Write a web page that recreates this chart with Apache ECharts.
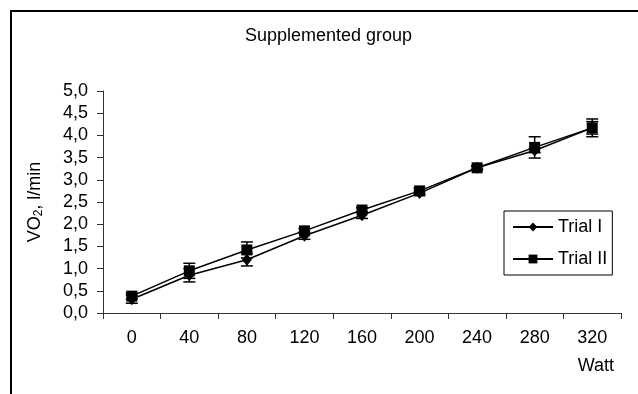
<!DOCTYPE html>
<html>
<head>
<meta charset="utf-8">
<script src="https://cdn.jsdelivr.net/npm/echarts@6/dist/echarts.min.js"></script>
<style>
    html, body { margin: 0; padding: 0; background: #fff; }
    #frame {
        position: absolute; left: 10px; top: 10px; width: 700px; height: 450px;
        border-left: 2px solid #000; border-top: 2px solid #000;
    }
    #chart { position: absolute; left: 0; top: 0; width: 638px; height: 394px; }
</style>
</head>
<body>
<div id="frame"></div>
<div id="chart"></div>
<script>
    const watts = ['0', '40', '80', '120', '160', '200', '240', '280', '320'];
    const trial1 = [0.31, 0.85, 1.20, 1.74, 2.20, 2.70, 3.27, 3.66, 4.17];
    const trial2 = [0.38, 0.95, 1.42, 1.85, 2.32, 2.75, 3.27, 3.73, 4.17];
    const trial1Err = [0.09, 0.15, 0.14, 0.08, 0.07, 0.05, 0.03, 0.05, 0.14];
    const trial2Err = [0.07, 0.17, 0.18, 0.05, 0.05, 0.06, 0.05, 0.24, 0.20];
    const yTicks = { min: 0, max: 5, interval: 0.5 };

    const FONT = 'Liberation Sans, Arial, sans-serif';

    function errorData(values, errs) {
        return values.map((v, i) => [i, v - errs[i], v + errs[i]]);
    }

    function renderErrorBar(params, api) {
        let x = api.coord([api.value(0), 0])[0];
        let low = api.coord([api.value(0), api.value(1)])[1];
        let high = api.coord([api.value(0), api.value(2)])[1];
        let half = 6;
        let style = { stroke: '#000', lineWidth: 1.5 };
        return {
            type: 'group',
            children: [
                { type: 'line', shape: { x1: x, y1: low, x2: x, y2: high }, style: style },
                { type: 'line', shape: { x1: x - half, y1: low, x2: x + half, y2: low }, style: style },
                { type: 'line', shape: { x1: x - half, y1: high, x2: x + half, y2: high }, style: style }
            ]
        };
    }

    let chart = echarts.init(document.getElementById('chart'));

    let option = {
        animation: false,
        textStyle: { fontFamily: FONT },
        title: {
            text: 'Supplemented group',
            left: 240,
            top: 22,
            textStyle: { fontFamily: FONT, fontSize: 18, fontWeight: 'normal', color: '#000' }
        },
        legend: {
            data: ['Trial I', 'Trial II'],
            orient: 'vertical',
            left: 504,
            top: 211,
            padding: [7, 5, 7, 8],
            itemGap: 14,
            itemWidth: 40,
            itemHeight: 11,
            borderColor: '#000',
            borderWidth: 1,
            borderRadius: 0,
            textStyle: { fontFamily: FONT, fontSize: 18, color: '#000' }
        },
        grid: {
            left: 103,
            right: 17,
            top: 91,
            bottom: 81
        },
        xAxis: {
            type: 'category',
            data: watts,
            name: 'Watt',
            nameLocation: 'end',
            nameGap: 0,
            nameTextStyle: {
                fontFamily: FONT, fontSize: 18, color: '#000',
                align: 'right', verticalAlign: 'top', padding: [44, 7, 0, 0]
            },
            axisLine: { lineStyle: { color: '#333', width: 1 } },
            axisTick: { show: true, length: 6, lineStyle: { color: '#333' } },
            axisLabel: { fontFamily: FONT, fontSize: 18, color: '#000', margin: 16 },
            splitLine: { show: false }
        },
        yAxis: {
            type: 'value',
            min: yTicks.min,
            max: yTicks.max,
            interval: yTicks.interval,
            name: '{a|VO}{s|2}{a|, l/min}',
            nameLocation: 'middle',
            nameGap: 58,
            nameRotate: 90,
            nameTextStyle: {
                rich: {
                    a: { fontFamily: FONT, fontSize: 18, color: '#000' },
                    s: { fontFamily: FONT, fontSize: 12, color: '#000', verticalAlign: 'bottom', padding: [8, 0, 0, 0] }
                }
            },
            axisLine: { show: true, lineStyle: { color: '#333', width: 1 } },
            axisTick: { show: true, length: 6, lineStyle: { color: '#333' } },
            axisLabel: {
                fontFamily: FONT, fontSize: 18, color: '#000', margin: 15,
                formatter: v => v.toFixed(1).replace('.', ',')
            },
            splitLine: { show: false }
        },
        series: [
            {
                name: 'Trial I err',
                type: 'custom',
                renderItem: renderErrorBar,
                data: errorData(trial1, trial1Err),
                z: 1
            },
            {
                name: 'Trial II err',
                type: 'custom',
                renderItem: renderErrorBar,
                data: errorData(trial2, trial2Err),
                z: 1
            },
            {
                name: 'Trial I',
                type: 'line',
                data: trial1,
                symbol: 'diamond',
                symbolSize: [10, 12],
                lineStyle: { color: '#000', width: 1.5 },
                itemStyle: { color: '#000' },
                z: 3
            },
            {
                name: 'Trial II',
                type: 'line',
                data: trial2,
                symbol: 'rect',
                symbolSize: 11,
                lineStyle: { color: '#000', width: 1.5 },
                itemStyle: { color: '#000' },
                z: 3
            }
        ]
    };
    chart.setOption(option);

    window.addEventListener('resize', function () {
        chart.resize();
    });
</script>
</body>
</html>
